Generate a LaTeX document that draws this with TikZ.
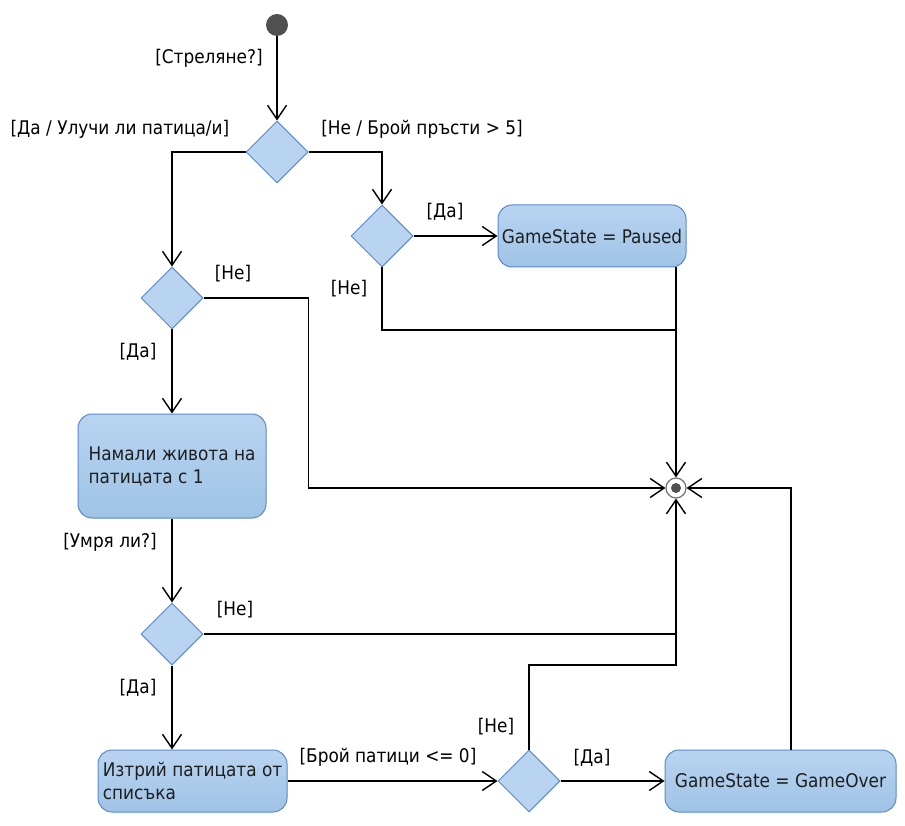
\documentclass[tikz,border=0pt]{standalone}
\usepackage{fontspec}
\setmainfont{DejaVu Sans Condensed}
\usetikzlibrary{shapes.geometric,arrows.meta}
\definecolor{nodefill}{HTML}{B9D4F0}
\definecolor{nodefillb}{HTML}{9FC3E6}
\definecolor{nodeline}{HTML}{5A8AC6}
\definecolor{startgray}{HTML}{505050}
\tikzset{
  every node/.style={font=\fontsize{18.8}{23}\selectfont},
  flow/.style={line width=1.4pt,-{Straight Barb[length=14pt,width=19pt,line width=1.4pt]}},
  plain/.style={line width=1.4pt},
  decision/.style={diamond,draw=nodeline,line width=1pt,fill=nodefill,
    minimum width=62pt,minimum height=62pt,inner sep=0pt},
  action/.style={rectangle,rounded corners=14pt,draw=nodeline,line width=1pt,
    top color=nodefill,bottom color=nodefillb,text=black!88,inner sep=0pt},
  guard/.style={inner sep=0pt,text=black}
}
\begin{document}
\begin{tikzpicture}[x=1pt,y=-1pt]
\useasboundingbox (0,0) rectangle (905,826);

% initial and final nodes
\node (start) [circle,fill=startgray,minimum size=22pt,inner sep=0pt] at (277,25) {};
\node (fin) [circle,draw=black!55,line width=1.2pt,fill=white,minimum size=20pt,inner sep=0pt] at (676,488) {};
\fill[startgray] (fin.center) circle (5pt);

% decisions
\node (d1) [decision] at (277,152) {};
\node (d2) [decision] at (172,298) {};
\node (d3) [decision] at (382,236) {};
\node (d4) [decision] at (172,634) {};
\node (d5) [decision] at (529,781) {};

% actions
\node (paused) [action,minimum width=188pt,minimum height=62pt] at (592,236) {GameState = Paused};
\node (dec) [action,minimum width=188pt,minimum height=104pt,align=left] at (172,466) {Намали живота на\\патицата с 1};
\node (del) [action,minimum width=189pt,minimum height=62pt,align=left] at (192.5,781) {Изтрий патицата от\\списъка};
\node (over) [action,minimum width=231pt,minimum height=62pt] at (780.5,781) {GameState = GameOver};

% junction points on the merge lines
\coordinate (j1) at (676,330);
\coordinate (j2) at (676,665);
\coordinate (overtop) at (791,750);

% flows
\draw[flow] (start) -- (d1.north);
\draw[flow] (d1.west) -| (d2.north);
\draw[flow] (d1.east) -| (d3.north);
\draw[flow] (d3.east) -- (paused.west);
\draw[plain] (d3.south) |- (j1);
\draw[flow] (fin |- paused.south) -- (fin.north);
\draw[flow] (d2.east) -- ++(105,0) |- (fin.west);
\draw[flow] (d2.south) -- (dec.north);
\draw[flow] (dec.south) -- (d4.north);
\draw[flow] (d4.east) -| (fin.south);
\draw[flow] (d4.south) -- (del.north -| d4.south);
\draw[flow] (del.east) -- (d5.west);
\draw[plain] (d5.north) |- (j2) -- (fin |- d4.east);
\draw[flow] (d5.east) -- (over.west);
\draw[flow] (overtop) |- (fin.east);

% guards
\node[guard] (g1) at (209,58) {[Стреляне?]};
\node[guard] (g2) at (120,129) {[Да / Улучи ли патица/и]};
\node[guard] (g3) at (422,129) {[Не / Брой пръсти > 5]};
\node[guard] (g4) at (445,212) {[Да]};
\node[guard] (g5) at (349,289) {[Не]};
\node[guard] (g6) at (233,274) {[Не]};
\node[guard] (g7) at (138,352) {[Да]};
\node[guard] (g8) at (110,542) {[Умря ли?]};
\node[guard] (g9) at (235,610) {[Не]};
\node[guard] (g10) at (138,688) {[Да]};
\node[guard] (g11) at (388,757) {[Брой патици <= 0]};
\node[guard] (g12) at (496,727) {[Не]};
\node[guard] (g13) at (592,758) {[Да]};
\end{tikzpicture}
\end{document}
